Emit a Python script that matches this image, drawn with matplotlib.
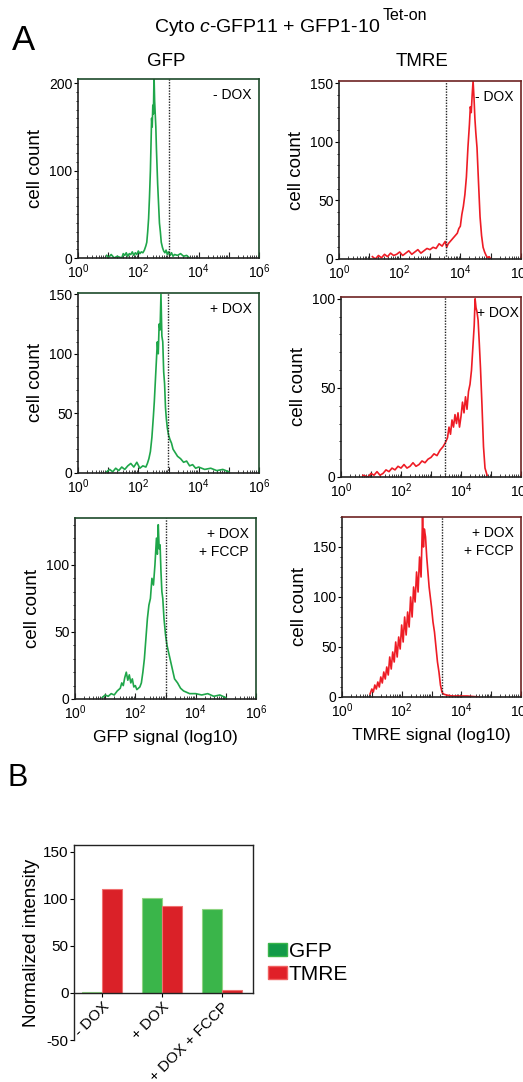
import numpy as np
import matplotlib
matplotlib.use("Agg")
import matplotlib.pyplot as plt
import matplotlib.transforms as mtransforms
from matplotlib.ticker import FixedLocator, NullFormatter, MultipleLocator
from matplotlib.patches import Patch

plt.rcParams['font.family'] = ['Liberation Sans', 'DejaVu Sans']
plt.rcParams['mathtext.fontset'] = 'custom'
plt.rcParams['mathtext.rm'] = 'Liberation Sans'
plt.rcParams['mathtext.it'] = 'Liberation Sans:italic'
plt.rcParams['mathtext.bf'] = 'Liberation Sans:bold'
plt.rcParams['axes.unicode_minus'] = False

# ---------------- data (log10 signal, cell count) ----------------
gfp_minus_x = [0.95, 1.0, 1.1, 1.2, 1.3, 1.45, 1.5, 1.55, 1.6, 1.65, 1.7, 1.75, 1.8, 1.85, 1.9, 1.95,
               2.0, 2.05, 2.1, 2.15, 2.2, 2.25, 2.28, 2.31, 2.34, 2.37, 2.4, 2.42, 2.44, 2.46, 2.48,
               2.5, 2.52, 2.54, 2.56, 2.58, 2.6, 2.62, 2.64, 2.66, 2.68, 2.7, 2.73, 2.76, 2.8, 2.84,
               2.88, 2.92, 2.96, 3.0, 3.05, 3.1, 3.15, 3.2, 3.3, 3.4, 3.5, 3.6, 3.7]
gfp_minus_y = [3, 0, 4, 0, 2, 0, 5, 3, 6, 2, 5, 4, 7, 3, 6, 4,
               8, 5, 7, 6, 9, 14, 18, 30, 45, 70, 100, 130, 160, 150, 175,
               165, 210, 180, 165, 150, 125, 105, 85, 70, 55, 40, 30, 18, 12, 8,
               6, 9, 4, 7, 3, 6, 2, 4, 3, 5, 2, 3, 0]

tmre_minus_x = [1.1, 1.2, 1.3, 1.4, 1.5, 1.6, 1.7, 1.8, 1.9, 2.0, 2.1, 2.2, 2.3, 2.4, 2.5, 2.6,
                2.7, 2.8, 2.9, 3.0, 3.1, 3.2, 3.3, 3.4, 3.5, 3.55, 3.6, 3.7, 3.8, 3.9, 3.95, 4.0,
                4.05, 4.1, 4.15, 4.2, 4.25, 4.3, 4.33, 4.36, 4.39, 4.42, 4.45, 4.48, 4.51, 4.55,
                4.6, 4.65, 4.7, 4.75, 4.8, 4.85, 4.9, 4.95, 5.0]
tmre_minus_y = [2, 0, 3, 1, 4, 2, 5, 3, 4, 6, 3, 5, 7, 4, 6, 8,
                5, 7, 9, 8, 10, 9, 13, 11, 15, 10, 13, 16, 19, 22, 26, 28,
                38, 45, 55, 70, 95, 115, 130, 125, 140, 152, 138, 120, 108, 95,
                65, 36, 20, 10, 6, 3, 1, 2, 0]

gfp_plus_x = [0.95, 1.05, 1.15, 1.25, 1.35, 1.45, 1.55, 1.65, 1.75, 1.85, 1.95, 2.05, 2.15, 2.25,
              2.3, 2.35, 2.4, 2.45, 2.5, 2.53, 2.56, 2.6, 2.63, 2.66, 2.69, 2.72, 2.75, 2.78, 2.81,
              2.84, 2.87, 2.9, 2.93, 2.96, 3.0, 3.05, 3.1, 3.15, 3.2, 3.3, 3.4, 3.5, 3.6, 3.7, 3.8,
              3.9, 4.0, 4.2, 4.4, 4.6, 4.8, 5.0]
gfp_plus_y = [1, 3, 1, 4, 2, 5, 3, 6, 8, 5, 9, 4, 6, 5,
              8, 12, 18, 30, 48, 60, 75, 95, 110, 100, 125, 120, 150, 115, 110,
              85, 75, 55, 45, 38, 32, 28, 25, 20, 18, 14, 12, 9, 10, 6, 7,
              4, 5, 3, 4, 2, 3, 1]

tmre_plus_x = [0.73, 0.9, 1.0, 1.1, 1.2, 1.3, 1.4, 1.5, 1.6, 1.7, 1.8, 1.9, 2.0, 2.1, 2.2, 2.3,
               2.4, 2.5, 2.6, 2.7, 2.8, 2.9, 3.0, 3.1, 3.2, 3.3, 3.4, 3.47, 3.55, 3.6, 3.65, 3.7,
               3.75, 3.8, 3.85, 3.9, 3.95, 4.0, 4.05, 4.1, 4.15, 4.2, 4.25, 4.3, 4.35, 4.4, 4.44,
               4.47, 4.5, 4.53, 4.57, 4.61, 4.65, 4.7, 4.75, 4.8, 4.87]
tmre_plus_y = [1, 0, 2, 1, 3, 1, 2, 4, 3, 5, 4, 6, 5, 7, 5, 6,
               8, 6, 7, 9, 8, 10, 11, 13, 12, 15, 17, 19, 22, 28, 24, 32,
               28, 35, 30, 36, 28, 34, 42, 36, 45, 38, 48, 52, 60, 74, 85,
               100, 95, 93, 88, 75, 61, 40, 17, 5, 1]

gfp_fccp_x = [0.9, 1.0, 1.1, 1.2, 1.3, 1.4, 1.5, 1.55, 1.6, 1.65, 1.7, 1.75, 1.8, 1.85, 1.9, 1.95,
              2.0, 2.05, 2.1, 2.15, 2.2, 2.25, 2.3, 2.35, 2.4, 2.45, 2.5, 2.55, 2.6, 2.65, 2.7,
              2.73, 2.76, 2.79, 2.82, 2.85, 2.88, 2.91, 2.95, 3.0, 3.05, 3.1, 3.15, 3.2, 3.3, 3.4,
              3.5, 3.6, 3.7, 3.8, 4.0, 4.2, 4.4, 4.6, 4.8, 5.0]
gfp_fccp_y = [1, 3, 2, 4, 3, 6, 8, 12, 10, 16, 20, 14, 18, 12, 15, 9,
              10, 7, 8, 9, 12, 20, 30, 45, 60, 70, 75, 90, 85, 100, 120,
              108, 130, 112, 115, 95, 80, 75, 60, 48, 40, 35, 30, 25, 15, 12,
              8, 6, 5, 4, 4, 3, 4, 2, 3, 1]

tmre_fccp_x = [0.94, 1.0, 1.05, 1.1, 1.15, 1.2, 1.25, 1.3, 1.35, 1.4, 1.45, 1.5, 1.55, 1.6, 1.65,
               1.7, 1.75, 1.8, 1.85, 1.9, 1.95, 2.0, 2.05, 2.1, 2.15, 2.2, 2.25, 2.3, 2.35, 2.4,
               2.45, 2.5, 2.55, 2.6, 2.65, 2.7, 2.73, 2.76, 2.8, 2.84, 2.88, 2.92, 2.96, 3.0, 3.05,
               3.1, 3.15, 3.2, 3.25, 3.3, 3.35, 3.4, 3.5, 3.7, 3.9, 4.2, 4.6]
tmre_fccp_y = [3, 8, 5, 12, 8, 15, 10, 20, 14, 25, 18, 30, 22, 40, 28,
               45, 35, 55, 40, 60, 48, 72, 55, 80, 62, 85, 70, 100, 80, 110,
               95, 125, 105, 140, 120, 180, 150, 168, 160, 140, 125, 110, 100, 90, 75,
               65, 50, 35, 25, 12, 5, 3, 2, 1, 1, 1, 0]

gfp_gates = [3.02, 2.98, 3.02]
tmre_gates = [3.53, 3.47, 3.35]
conditions = ['- DOX', '+ DOX', '+ DOX\n+ FCCP']
gfp_ylims = [205, 151, 135]
tmre_ylims = [152, 101, 180]
gfp_yticks = [[0, 100, 200], [0, 50, 100, 150], [0, 50, 100]]
tmre_yticks = [[0, 50, 100, 150], [0, 50, 100], [0, 50, 100, 150]]
xtick_exps = [0, 2, 4, 6]

bar_categories = ['- DOX', '+ DOX', '+ DOX + FCCP']
bar_gfp = [0.5, 101, 89]
bar_tmre = [110, 92, 3]

# ---------------- figure ----------------
W, H = 523, 1082
fig = plt.figure(figsize=(W / 100, H / 100), dpi=100)


def add_ax(l, r, t, b):
    return fig.add_axes([l / W, 1 - b / H, (r - l) / W, (b - t) / H])


GREEN_LINE = '#1fa64a'
RED_LINE = '#ee1c25'
GREEN_SPINE = '#1d4a2a'
RED_SPINE = '#6e2222'

gfp_data = [(gfp_minus_x, gfp_minus_y), (gfp_plus_x, gfp_plus_y), (gfp_fccp_x, gfp_fccp_y)]
tmre_data = [(tmre_minus_x, tmre_minus_y), (tmre_plus_x, tmre_plus_y), (tmre_fccp_x, tmre_fccp_y)]

gfp_boxes = [(78, 259, 79, 258), (78, 259, 293, 473), (75, 256, 518, 699)]
tmre_boxes = [(339, 521, 81, 259), (341, 521, 297, 477), (342, 521, 517, 697)]


def style_hist(ax, ylim, yticks, spine_color):
    ax.set_xscale('log')
    ax.set_xlim(1, 1e6)
    ax.set_ylim(0, ylim)
    ax.xaxis.set_major_locator(FixedLocator([10.0 ** e for e in range(7)]))
    ax.xaxis.set_minor_locator(FixedLocator([m * 10.0 ** e for e in range(6) for m in range(2, 10)]))
    ax.set_xticks([10.0 ** e for e in range(7)])
    ax.set_xticklabels(['$10^{%d}$' % e if e in xtick_exps else '' for e in range(7)])
    ax.xaxis.set_minor_formatter(NullFormatter())
    ax.tick_params(axis='x', which='major', direction='in', length=4, width=0.8,
                   labelsize=10, pad=3, color='#222222')
    ax.tick_params(axis='x', which='minor', direction='in', length=2, width=0.6, color='#222222')
    ax.set_yticks(yticks)
    ax.yaxis.set_minor_locator(MultipleLocator(10))
    ax.tick_params(axis='y', which='major', direction='out', length=3, width=0.8,
                   labelsize=10, pad=1)
    ax.tick_params(axis='y', which='minor', direction='out', length=1.5, width=0.6)
    for s in ax.spines.values():
        s.set_color(spine_color)
        s.set_linewidth(1.2)
    ax.spines['left'].set_color('#222222')
    ax.spines['bottom'].set_color('#222222')
    ax.set_ylabel('cell count', fontsize=13.5, labelpad=4)


for i in range(3):
    # GFP
    ax = add_ax(*gfp_boxes[i])
    xs, ys = gfp_data[i]
    ax.plot(10.0 ** np.array(xs), ys, color=GREEN_LINE, lw=1.2)
    ax.axvline(10.0 ** gfp_gates[i], color='#222222', lw=1.0, ls=(0, (1, 1)))
    style_hist(ax, gfp_ylims[i], gfp_yticks[i], GREEN_SPINE)
    ax.text(0.96, 0.95, conditions[i], transform=ax.transAxes, ha='right', va='top',
            fontsize=10, linespacing=1.4, multialignment='right')
    if i == 2:
        ax.set_xlabel('GFP signal (log10)', fontsize=12.5, labelpad=6)
    # TMRE
    ax = add_ax(*tmre_boxes[i])
    xs, ys = tmre_data[i]
    ax.plot(10.0 ** np.array(xs), ys, color=RED_LINE, lw=1.2)
    ax.axvline(10.0 ** tmre_gates[i], color='#222222', lw=1.0, ls=(0, (1, 1)))
    style_hist(ax, tmre_ylims[i], tmre_yticks[i], RED_SPINE)
    ax.text(0.96 if i != 1 else 0.99, 0.95, conditions[i], transform=ax.transAxes,
            ha='right', va='top', fontsize=10, linespacing=1.4, multialignment='right')
    if i == 2:
        ax.set_xlabel('TMRE signal (log10)', fontsize=12.5, labelpad=6)

# titles
t_main = fig.text(154 / W, 1 - 28 / H, r'Cyto $\it{c}$-GFP11 + GFP1-10', ha='left', va='center',
                  fontsize=14)
renderer = fig.canvas.get_renderer()
bb = t_main.get_window_extent(renderer)
fig.text(bb.x1 / W + 2 / W, 1 - 16 / H, 'Tet-on', ha='left', va='center', fontsize=11.5)
fig.text(12 / W, 1 - 40 / H, 'A', ha='left', va='center', fontsize=25)
fig.text(166 / W, 1 - 62 / H, 'GFP', ha='center', va='center', fontsize=13.5)
fig.text(422 / W, 1 - 62 / H, 'TMRE', ha='center', va='center', fontsize=13.5)
fig.text(8 / W, 1 - 778 / H, 'B', ha='left', va='center', fontsize=22)

# ---------------- panel B ----------------
axb = add_ax(74, 253, 845, 1040)
x = np.arange(len(bar_categories))
bw = 0.333
axb.bar(x - bw / 2, bar_gfp, width=bw, color='#3ab54a', edgecolor='#8fd483', linewidth=0.8)
axb.bar(x + bw / 2, bar_tmre, width=bw, color='#da2128', edgecolor='#f07070', linewidth=0.8)
axb.spines['bottom'].set_position(('data', 0))
axb.spines['right'].set_bounds(0, 157)
axb.set_xlim(-0.47, 2.52)
axb.set_ylim(-50, 157)
axb.set_yticks([-50, 0, 50, 100, 150])
axb.set_xticks(x)
axb.set_xticklabels(bar_categories, rotation=45, ha='right', rotation_mode='anchor', fontsize=11)
label_dx = [10, 10, 3]
for lab, dx in zip(axb.get_xticklabels(), label_dx):
    lab.set_transform(lab.get_transform() +
                      mtransforms.ScaledTranslation(dx / 100, -2 / 100, fig.dpi_scale_trans))
for s in axb.spines.values():
    s.set_color('#222222')
    s.set_linewidth(1.0)
axb.tick_params(axis='y', labelsize=11, length=3, pad=1)
axb.tick_params(axis='x', length=3, pad=2)
axb.set_ylabel('Normalized intensity', fontsize=13.5, labelpad=2)

handles = [Patch(facecolor='#129a48', edgecolor='#3ab54a'), Patch(facecolor='#e02028', edgecolor='#f06060')]
fig.legend(handles, ['GFP', 'TMRE'], loc='center left', bbox_to_anchor=(268 / W, 1 - 963 / H),
           frameon=False, fontsize=15, handlelength=0.9, handleheight=0.6, handletextpad=0.1,
           labelspacing=0.2, borderaxespad=0, borderpad=0)

fig.savefig('out.png', dpi=100)
